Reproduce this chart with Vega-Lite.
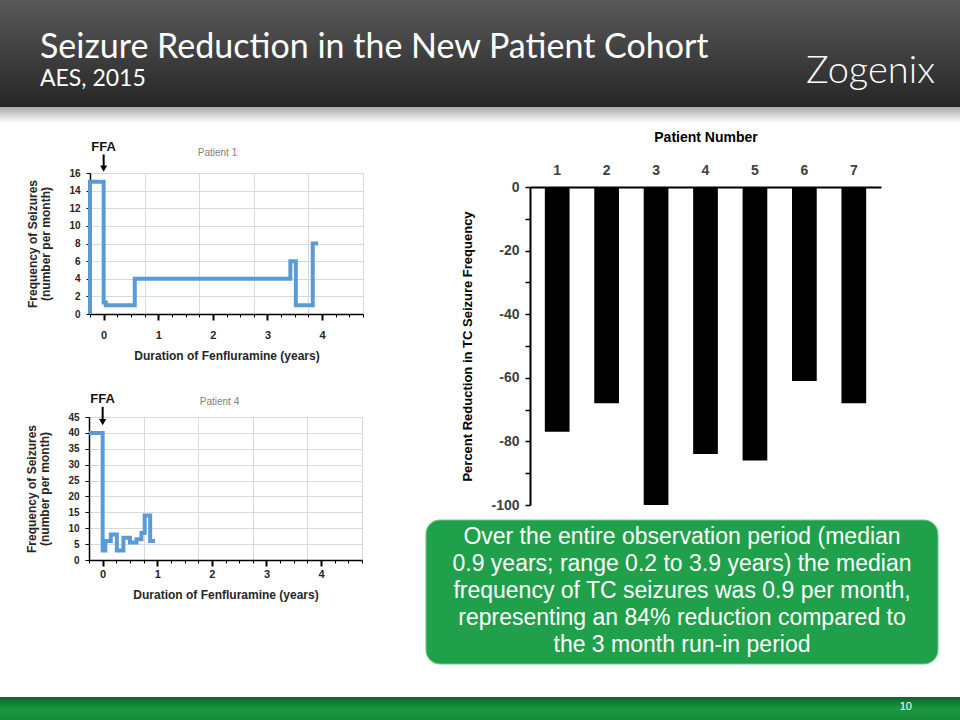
{
  "$schema": "https://vega.github.io/schema/vega-lite/v6.json",
  "background": "white",
  "padding": 0,
  "config": {
    "view": {"stroke": null},
    "font": "Liberation Sans",
    "title": {"font": "Liberation Sans"}
  },
  "datasets": {
    "slide": [{"part": "band"}],
    "ffa": [{"label": "FFA"}],
    "p1": [
      {"i": 1, "years": -0.25, "freq": 0},
      {"i": 2, "years": -0.25, "freq": 15},
      {"i": 3, "years": 0.0, "freq": 1.3},
      {"i": 4, "years": 0.04, "freq": 1},
      {"i": 5, "years": 0.57, "freq": 4},
      {"i": 6, "years": 3.42, "freq": 6},
      {"i": 7, "years": 3.52, "freq": 1},
      {"i": 8, "years": 3.83, "freq": 8},
      {"i": 9, "years": 3.93, "freq": 8}
    ],
    "p4": [
      {"i": 1, "years": -0.25, "freq": 40},
      {"i": 2, "years": 0.0, "freq": 3},
      {"i": 3, "years": 0.05, "freq": 6},
      {"i": 4, "years": 0.15, "freq": 8},
      {"i": 5, "years": 0.26, "freq": 3},
      {"i": 6, "years": 0.38, "freq": 7},
      {"i": 7, "years": 0.5, "freq": 5.5},
      {"i": 8, "years": 0.62, "freq": 6.5},
      {"i": 9, "years": 0.71, "freq": 8.5},
      {"i": 10, "years": 0.77, "freq": 14},
      {"i": 11, "years": 0.87, "freq": 6},
      {"i": 12, "years": 0.96, "freq": 6}
    ],
    "reduction": [
      {"patient": 1, "reduction": -77},
      {"patient": 2, "reduction": -68},
      {"patient": 3, "reduction": -100},
      {"patient": 4, "reduction": -84},
      {"patient": 5, "reduction": -86},
      {"patient": 6, "reduction": -61},
      {"patient": 7, "reduction": -68}
    ]
  },
  "spacing": 32,
  "vconcat": [
    {
      "spacing": 7,
      "vconcat": [
        {
          "spacing": 0,
          "hconcat": [
            {
              "width": 770,
              "height": 123,
              "data": {"name": "slide"},
              "mark": {"type": "rect", "color": {"x1": 0, "y1": 0, "x2": 0, "y2": 1, "gradient": "linear", "stops": [{"offset": 0, "color": "#5a5a5a"}, {"offset": 0.869, "color": "#262626"}, {"offset": 0.8705, "color": "#a9a9a9"}, {"offset": 1, "color": "#ffffff"}]}},
              "encoding": {},
              "title": {"text": "Seizure Reduction in the New Patient Cohort", "subtitle": "AES, 2015", "anchor": "start", "frame": "group", "orient": "top", "offset": -91, "dx": 40, "font": "Lato", "fontSize": 34, "fontWeight": "normal", "color": "white", "subtitleFont": "Lato", "subtitleFontSize": 23, "subtitleColor": "white", "subtitlePadding": 3}
            },
            {
              "width": 190,
              "height": 123,
              "data": {"name": "slide"},
              "mark": {"type": "rect", "color": {"x1": 0, "y1": 0, "x2": 0, "y2": 1, "gradient": "linear", "stops": [{"offset": 0, "color": "#5a5a5a"}, {"offset": 0.869, "color": "#262626"}, {"offset": 0.8705, "color": "#a9a9a9"}, {"offset": 1, "color": "#ffffff"}]}},
              "encoding": {},
              "title": {"text": "Zogenix", "anchor": "end", "frame": "group", "orient": "top", "offset": -91, "dx": -25, "font": "Lato", "fontSize": 38, "fontWeight": 300, "color": "white"}
            }
          ]
        },
        {
          "spacing": 61,
          "hconcat": [
            {
              "spacing": 32,
              "vconcat": [
                {
                  "width": 363,
                  "height": 141,
                  "title": {"text": "Patient 1", "fontSize": 10, "color": "#808080", "fontWeight": "normal", "anchor": "middle", "dx": 36, "offset": -17},
                  "layer": [
                    {
                      "data": {"name": "p1"},
                      "mark": {"type": "line", "interpolate": "step-after", "color": "#5b9bd5", "strokeWidth": 4},
                      "encoding": {
                        "x": {"field": "years", "type": "quantitative", "scale": {"domain": [-0.25, 4.75], "range": [90, 363], "nice": false, "zero": false},
                          "axis": {"orient": "bottom", "values": [0, 1, 2, 3, 4], "format": "d", "grid": false, "tickSize": 6, "tickWidth": 2, "tickColor": "#000", "domainColor": "#000", "domainWidth": 1.5, "labelFontSize": 11, "labelFontWeight": "bold", "labelColor": "#262626", "labelPadding": 9, "title": "Duration of Fenfluramine (years)", "titleFontSize": 12, "titleFontWeight": "bold", "titleColor": "#262626", "titlePadding": 10}},
                        "y": {"field": "freq", "type": "quantitative", "scale": {"domain": [0, 16], "nice": false, "zero": false},
                          "axis": {"orient": "left", "offset": -90, "values": [0, 2, 4, 6, 8, 10, 12, 14, 16], "grid": true, "gridColor": "#d9d9d9", "tickSize": 4, "tickColor": "#000", "domainColor": "#000", "domainWidth": 1.5, "labelFontSize": 10, "labelFontWeight": "bold", "labelColor": "#262626", "labelPadding": 6, "title": ["Frequency of Seizures", "(number per month)"], "titleFontSize": 12, "titleFontWeight": "bold", "titleColor": "#262626", "titlePadding": 16, "titleLineHeight": 13}},
                        "order": {"field": "i", "type": "quantitative"}
                      }
                    },
                    {
                      "data": {"name": "ffa"},
                      "mark": {"type": "rule", "color": "black", "strokeWidth": 2},
                      "encoding": {
                        "x": {"datum": 0, "type": "quantitative", "scale": {"domain": [-0.25, 4.75], "range": [90, 363], "nice": false, "zero": false},
                          "axis": {"orient": "bottom", "values": [-0.25, 0.75, 1.75, 2.75, 3.75, 4.75], "grid": true, "gridColor": "#d9d9d9", "labels": false, "ticks": false, "domain": false, "title": null}},
                        "y": {"datum": 18.1, "type": "quantitative", "scale": {"domain": [0, 16], "nice": false, "zero": false}, "axis": null},
                        "y2": {"datum": 16.8}
                      }
                    },
                    {
                      "data": {"name": "ffa"},
                      "mark": {"type": "point", "shape": "triangle-down", "filled": true, "size": 50, "color": "black", "opacity": 1},
                      "encoding": {
                        "x": {"datum": 0, "type": "quantitative", "scale": {"domain": [-0.25, 4.75], "range": [90, 363], "nice": false, "zero": false},
                          "axis": {"orient": "bottom", "values": [-0.25, 0.25, 0.5, 0.75, 1.25, 1.5, 1.75, 2.25, 2.5, 2.75, 3.25, 3.5, 3.75, 4.25, 4.5, 4.75], "grid": false, "labels": false, "tickSize": 3, "tickColor": "#000", "domain": false, "title": null}},
                        "y": {"datum": 16.5, "type": "quantitative", "scale": {"domain": [0, 16], "nice": false, "zero": false}, "axis": null}
                      }
                    },
                    {
                      "data": {"name": "ffa"},
                      "mark": {"type": "text", "fontWeight": "bold", "fontSize": 13, "baseline": "middle", "color": "#111"},
                      "encoding": {
                        "text": {"field": "label"},
                        "x": {"datum": 0, "type": "quantitative", "scale": {"domain": [-0.25, 4.75], "range": [90, 363], "nice": false, "zero": false}, "axis": null},
                        "y": {"datum": 18.95, "type": "quantitative", "scale": {"domain": [0, 16], "nice": false, "zero": false}, "axis": null}
                      }
                    }
                  ],
                  "resolve": {"axis": {"x": "independent", "y": "independent"}}
                },
                {
                  "width": 363,
                  "height": 143,
                  "title": {"text": "Patient 4", "fontSize": 10, "color": "#808080", "fontWeight": "normal", "anchor": "middle", "dx": 38, "offset": -14},
                  "layer": [
                    {
                      "data": {"name": "p4"},
                      "mark": {"type": "line", "interpolate": "step-after", "color": "#5b9bd5", "strokeWidth": 4},
                      "encoding": {
                        "x": {"field": "years", "type": "quantitative", "scale": {"domain": [-0.25, 4.75], "range": [89, 362], "nice": false, "zero": false},
                          "axis": {"orient": "bottom", "values": [0, 1, 2, 3, 4], "format": "d", "grid": false, "tickSize": 6, "tickWidth": 2, "tickColor": "#000", "domainColor": "#000", "domainWidth": 1.5, "labelFontSize": 11, "labelFontWeight": "bold", "labelColor": "#262626", "labelPadding": 2, "title": "Duration of Fenfluramine (years)", "titleFontSize": 12, "titleFontWeight": "bold", "titleColor": "#262626", "titlePadding": 10}},
                        "y": {"field": "freq", "type": "quantitative", "scale": {"domain": [0, 45], "nice": false, "zero": false},
                          "axis": {"orient": "left", "offset": -89, "values": [0, 5, 10, 15, 20, 25, 30, 35, 40, 45], "grid": true, "gridColor": "#d9d9d9", "tickSize": 4, "tickColor": "#000", "domainColor": "#000", "domainWidth": 1.5, "labelFontSize": 10, "labelFontWeight": "bold", "labelColor": "#262626", "labelPadding": 6, "title": ["Frequency of Seizures", "(number per month)"], "titleFontSize": 12, "titleFontWeight": "bold", "titleColor": "#262626", "titlePadding": 16, "titleLineHeight": 13}},
                        "order": {"field": "i", "type": "quantitative"}
                      }
                    },
                    {
                      "data": {"name": "ffa"},
                      "mark": {"type": "rule", "color": "black", "strokeWidth": 2},
                      "encoding": {
                        "x": {"datum": 0, "type": "quantitative", "scale": {"domain": [-0.25, 4.75], "range": [89, 362], "nice": false, "zero": false},
                          "axis": {"orient": "bottom", "values": [-0.25, 0.75, 1.75, 2.75, 3.75, 4.75], "grid": true, "gridColor": "#d9d9d9", "labels": false, "ticks": false, "domain": false, "title": null}},
                        "y": {"datum": 48.2, "type": "quantitative", "scale": {"domain": [0, 45], "nice": false, "zero": false}, "axis": null},
                        "y2": {"datum": 44.2}
                      }
                    },
                    {
                      "data": {"name": "ffa"},
                      "mark": {"type": "point", "shape": "triangle-down", "filled": true, "size": 50, "color": "black", "opacity": 1},
                      "encoding": {
                        "x": {"datum": 0, "type": "quantitative", "scale": {"domain": [-0.25, 4.75], "range": [89, 362], "nice": false, "zero": false},
                          "axis": {"orient": "bottom", "values": [-0.25, 0.25, 0.5, 0.75, 1.25, 1.5, 1.75, 2.25, 2.5, 2.75, 3.25, 3.5, 3.75, 4.25, 4.5, 4.75], "grid": false, "labels": false, "tickSize": 3, "tickColor": "#000", "domain": false, "title": null}},
                        "y": {"datum": 43.4, "type": "quantitative", "scale": {"domain": [0, 45], "nice": false, "zero": false}, "axis": null}
                      }
                    },
                    {
                      "data": {"name": "ffa"},
                      "mark": {"type": "text", "fontWeight": "bold", "fontSize": 13, "baseline": "middle", "color": "#111"},
                      "encoding": {
                        "text": {"field": "label"},
                        "x": {"datum": 0, "type": "quantitative", "scale": {"domain": [-0.25, 4.75], "range": [89, 362], "nice": false, "zero": false}, "axis": null},
                        "y": {"datum": 50.6, "type": "quantitative", "scale": {"domain": [0, 45], "nice": false, "zero": false}, "axis": null}
                      }
                    }
                  ],
                  "resolve": {"axis": {"x": "independent", "y": "independent"}}
                }
              ]
            },
            {
              "spacing": 7,
              "vconcat": [
                {
                  "width": 455,
                  "height": 332,
                  "data": {"name": "reduction"},
                  "mark": {"type": "bar", "color": "black"},
                  "encoding": {
                    "x": {"field": "patient", "type": "ordinal", "scale": {"range": [104, 455], "paddingInner": 0.5, "paddingOuter": 0.3},
                      "axis": {"orient": "top", "offset": -14, "labelAngle": 0, "ticks": false, "domainColor": "black", "domainWidth": 2, "labelFontSize": 14, "labelFontWeight": "bold", "labelColor": "#404040", "labelPadding": 10, "title": "Patient Number", "titleFontSize": 14, "titleFontWeight": "bold", "titleColor": "black", "titlePadding": 19}},
                    "y": {"field": "reduction", "type": "quantitative", "scale": {"domain": [-100, 0], "nice": false, "range": [332, 14]},
                      "axis": {"orient": "left", "offset": -104, "values": [-100, -90, -80, -70, -60, -50, -40, -30, -20, -10, 0], "labelExpr": "datum.value % 20 === 0 ? '' + datum.value : ''", "grid": false, "tickSize": 5, "tickWidth": 1.5, "tickColor": "black", "domainColor": "black", "domainWidth": 2, "labelFontSize": 14, "labelFontWeight": "bold", "labelColor": "#404040", "labelPadding": 6, "title": "Percent Reduction in TC Seizure Frequency", "titleFontSize": 13, "titleFontWeight": "bold", "titleColor": "black", "titlePadding": 16}}
                  }
                },
                {
                  "width": 512,
                  "height": 144,
                  "data": {"name": "slide"},
                  "mark": {"type": "rect", "color": "#21a04b", "cornerRadius": 14, "stroke": "#6cc98a", "strokeWidth": 1},
                  "encoding": {},
                  "title": {"text": ["Over the entire observation period (median", "0.9 years; range 0.2 to 3.9 years) the median", "frequency of TC seizures was 0.9 per month,", "representing an 84% reduction compared to", "the 3 month run-in period"], "anchor": "middle", "frame": "group", "orient": "top", "offset": -137, "color": "white", "fontSize": 23, "lineHeight": 27, "fontWeight": "normal", "font": "Liberation Sans"}
                }
              ]
            }
          ]
        }
      ]
    },
    {
      "width": 960,
      "height": 23,
      "data": {"name": "slide"},
      "mark": {"type": "rect", "color": {"x1": 0, "y1": 0, "x2": 0, "y2": 1, "gradient": "linear", "stops": [{"offset": 0, "color": "#0c6428"}, {"offset": 0.5, "color": "#1a963f"}, {"offset": 1, "color": "#158a39"}]}},
      "encoding": {},
      "title": {"text": "10", "orient": "top", "anchor": "end", "frame": "group", "offset": -15, "dx": -48, "color": "white", "fontSize": 11, "fontWeight": "normal"}
    }
  ]
}
